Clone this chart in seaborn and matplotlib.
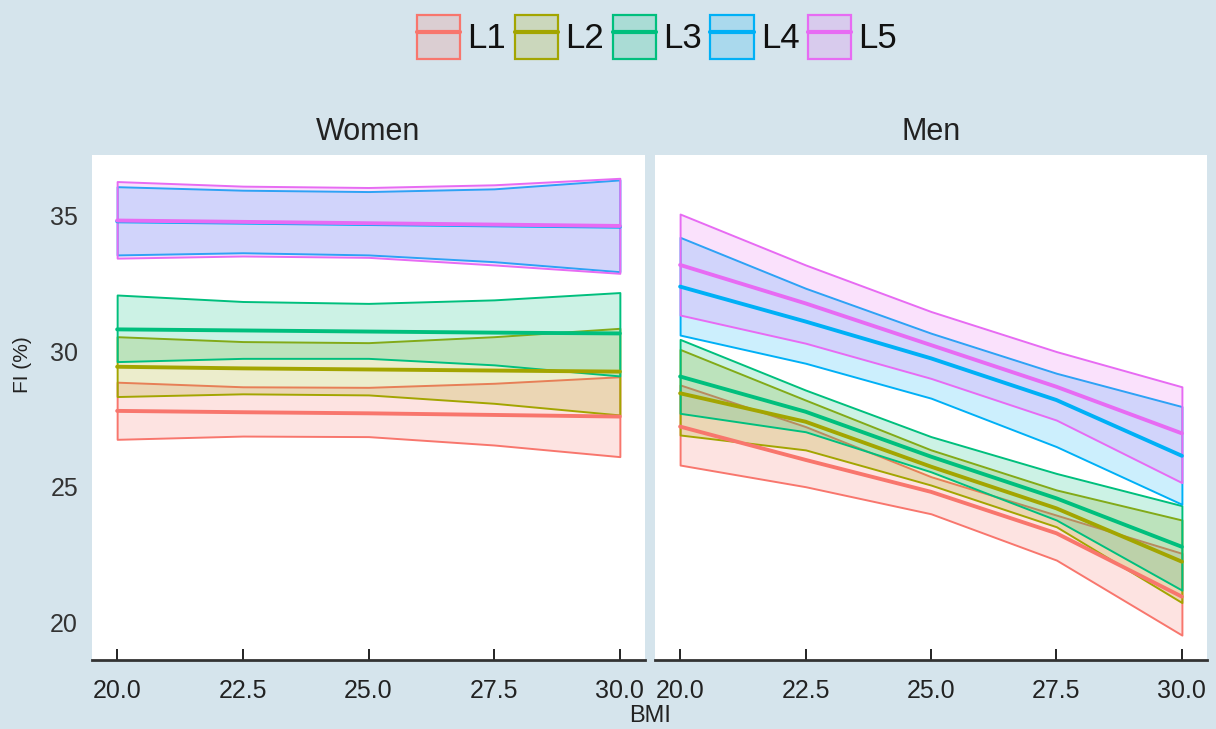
import numpy as np
import pandas as pd
import matplotlib
matplotlib.use("Agg")
import matplotlib.pyplot as plt
import seaborn as sns
from matplotlib.patches import Patch
from matplotlib.lines import Line2D
from matplotlib.colors import to_rgba

# ---------------- data ----------------
levels = ["L1", "L2", "L3", "L4", "L5"]
panels = ["Women", "Men"]
bmi = [20.0, 22.5, 25.0, 27.5, 30.0]

women_fit = [
    [27.80, 27.75, 27.71, 27.65, 27.59],
    [29.43, 29.37, 29.33, 29.29, 29.25],
    [30.81, 30.77, 30.73, 30.69, 30.66],
    [34.80, 34.75, 34.70, 34.65, 34.60],
    [34.83, 34.78, 34.73, 34.68, 34.63],
]
women_lo = [
    [26.75, 26.87, 26.85, 26.54, 26.11],
    [28.33, 28.43, 28.39, 28.08, 27.65],
    [29.62, 29.74, 29.74, 29.50, 29.09],
    [33.56, 33.64, 33.56, 33.31, 32.94],
    [33.44, 33.52, 33.47, 33.19, 32.88],
]
women_hi = [
    [28.86, 28.69, 28.67, 28.82, 29.06],
    [30.54, 30.36, 30.32, 30.54, 30.85],
    [32.08, 31.84, 31.77, 31.90, 32.17],
    [36.08, 35.95, 35.90, 36.00, 36.33],
    [36.27, 36.10, 36.05, 36.15, 36.39],
]

men_fit = [
    [27.22, 25.99, 24.81, 23.28, 20.94],
    [28.45, 27.40, 25.74, 24.20, 22.23],
    [29.07, 27.77, 26.11, 24.57, 22.78],
    [32.39, 31.10, 29.74, 28.20, 26.14],
    [33.19, 31.77, 30.23, 28.69, 26.97],
]
men_lo = [
    [25.80, 25.00, 24.00, 22.29, 19.52],
    [26.91, 26.36, 25.06, 23.52, 20.72],
    [27.71, 27.03, 25.55, 23.77, 21.18],
    [30.60, 29.56, 28.27, 26.48, 24.35],
    [31.34, 30.30, 29.00, 27.46, 25.15],
]
men_hi = [
    [28.76, 27.22, 25.37, 23.95, 22.54],
    [30.07, 28.20, 26.36, 24.88, 23.77],
    [30.44, 28.57, 26.85, 25.49, 24.30],
    [34.21, 32.33, 30.67, 29.19, 27.96],
    [35.07, 33.19, 31.47, 29.99, 28.69],
]

x_ticks = [20.0, 22.5, 25.0, 27.5, 30.0]
y_ticks = [20, 25, 30, 35]

# ---------------- long table ----------------
rows = []
for panel, fit, lo, hi in [("Women", women_fit, women_lo, women_hi),
                           ("Men", men_fit, men_lo, men_hi)]:
    for li, lev in enumerate(levels):
        for xi, xv in enumerate(bmi):
            rows.append(dict(panel=panel, level=lev, BMI=xv,
                             fit=fit[li][xi], lo=lo[li][xi], hi=hi[li][xi]))
df = pd.DataFrame(rows)

# ---------------- style ----------------
palette = ["#F8766D", "#A3A500", "#00BF7D", "#00B0F6", "#E76BF3"]
bg = "#d5e4ec"
sns.set_theme(style="white")
plt.rcParams['font.family'] = ['Liberation Sans', 'DejaVu Sans']

W, H = 1216, 729
fig = plt.figure(figsize=(W / 100, H / 100), dpi=100, facecolor=bg)
axL = fig.add_axes([92 / W, 69 / H, 553 / W, 505 / H])
axR = fig.add_axes([655 / W, 69 / H, 552 / W, 505 / H], sharey=axL)

for ax, panel in [(axL, "Women"), (axR, "Men")]:
    ax.set_facecolor("white")
    sub = df[df.panel == panel]
    for li, lev in enumerate(levels):
        g = sub[sub.level == lev]
        ax.fill_between(g.BMI, g.lo, g.hi,
                        facecolor=to_rgba(palette[li], 0.2),
                        edgecolor=palette[li], linewidth=1.4, zorder=2)
    sns.lineplot(data=sub, x="BMI", y="fit", hue="level", hue_order=levels,
                 palette=palette, linewidth=2.8, legend=False, ax=ax,
                 estimator=None, zorder=3)
    ax.set_xlim(19.5, 30.5)
    ax.set_ylim(18.6, 37.25)
    ax.set_xticks(x_ticks)
    ax.set_xticklabels([f"{t:.1f}" for t in x_ticks])
    ax.set_yticks(y_ticks)
    ax.set_xlabel("")
    ax.set_ylabel("")
    for s in ["top", "left", "right"]:
        ax.spines[s].set_visible(False)
    ax.spines["bottom"].set_color("#333333")
    ax.spines["bottom"].set_linewidth(2.0)
    ax.tick_params(axis="x", bottom=True, direction="in", length=8, width=1.4,
                   color="#222222", labelsize=18, pad=14, labelcolor="#222222")
    ax.tick_params(axis="y", left=False, length=0, labelsize=18, pad=10,
                   labelcolor="#333333")
    ax.text(0.5, 1.045, panel, transform=ax.transAxes, ha="center",
            va="center", fontsize=22, color="#222222")
    ax.grid(False)

axR.tick_params(axis="y", labelleft=False)

fig.text(22 / W, 1 - 365 / H, "FI (%)", rotation=90, ha="center",
         va="center", fontsize=15, color="#222222")
fig.text(650 / W, 1 - 716 / H, "BMI", ha="center", va="center",
         fontsize=17, color="#222222")

handles = [(Patch(facecolor=to_rgba(c, 0.2), edgecolor=c, linewidth=1.6),
            Line2D([], [], color=c, linewidth=3.0)) for c in palette]
fig.legend(handles, levels, loc="center", bbox_to_anchor=(657 / W, 1 - 37 / H),
           ncol=5, frameon=False, fontsize=25, handlelength=1.25,
           handleheight=1.55, handletextpad=0.2, columnspacing=0.25,
           labelcolor="#111111")

fig.savefig("out.png", dpi=100, facecolor=bg)
